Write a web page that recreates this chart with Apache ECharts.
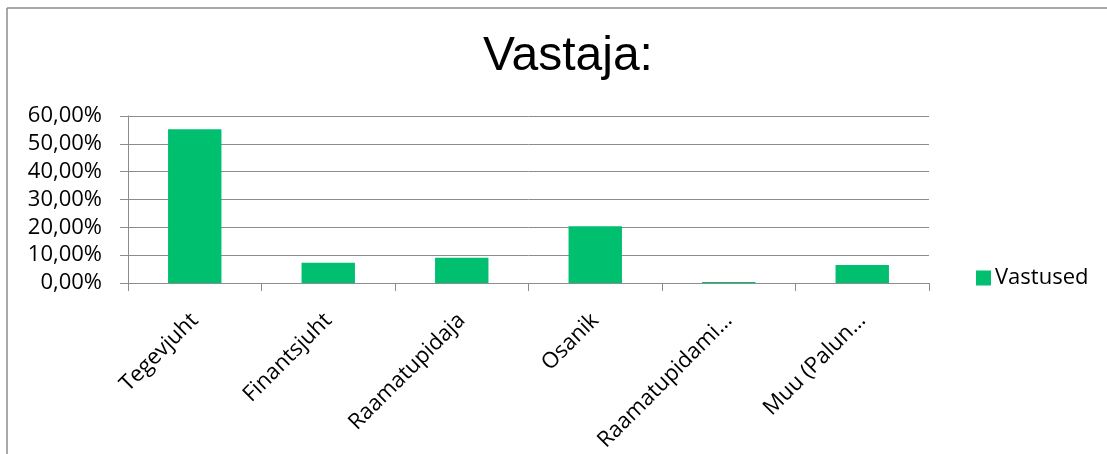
<!DOCTYPE html>
<html>
<head>
<meta charset="utf-8">
<script src="https://cdn.jsdelivr.net/npm/echarts@6/dist/echarts.min.js"></script>
<style>
html,body{margin:0;padding:0;background:#fff;}
#c{width:1107px;height:454px;}
</style>
</head>
<body>
<div id="c"></div>
<script>
var titleText = 'Vastaja:';
var seriesName = 'Vastused';
var categories = ['Tegevjuht', 'Finantsjuht', 'Raamatupidaja', 'Osanik', 'Raamatupidami…', 'Muu (Palun…'];
var values = [55.2, 7.3, 9.1, 20.4, 0.35, 6.45];
var yMin = 0, yMax = 60, yStep = 10;

var chart = echarts.init(document.getElementById('c'), null, {renderer: 'canvas'});
var lblFont = '"Open Sans", sans-serif';
chart.setOption({
  animation: false,
  backgroundColor: '#fff',
  graphic: [
    {type: 'line', shape: {x1: 7, y1: 8, x2: 1107, y2: 8}, style: {stroke: '#8c8c8c', lineWidth: 1.5}},
    {type: 'line', shape: {x1: 7, y1: 8, x2: 7, y2: 454}, style: {stroke: '#8c8c8c', lineWidth: 1.5}}
  ],
  title: {
    text: titleText,
    left: 563, top: 28, textAlign: 'center',
    textStyle: {fontFamily: '"Liberation Sans", Arial, sans-serif', fontSize: 48, fontWeight: 'normal', color: '#000'}
  },
  legend: {
    data: [seriesName],
    left: 971, top: 262,
    itemWidth: 15, itemHeight: 15, itemGap: 10,
    icon: 'rect',
    textStyle: {fontFamily: lblFont, fontSize: 22, color: '#000', padding: [0, 0, 0, -1]}
  },
  grid: {left: 128, right: 178, top: 116, bottom: 170, containLabel: false},
  xAxis: {
    type: 'category',
    data: categories,
    axisLine: {show: true, lineStyle: {color: '#8c8c8c', width: 1}},
    axisTick: {show: true, length: 8, lineStyle: {color: '#8c8c8c'}},
    axisLabel: {rotate: 45, margin: 34, fontFamily: lblFont, fontSize: 22, color: '#000', interval: 0}
  },
  yAxis: {
    type: 'value',
    min: yMin, max: yMax, interval: yStep,
    axisLine: {show: true, lineStyle: {color: '#8c8c8c', width: 1}},
    axisTick: {show: true, length: 8, lineStyle: {color: '#8c8c8c'}},
    splitLine: {show: true, lineStyle: {color: '#8c8c8c', width: 1}},
    axisLabel: {
      margin: 26, fontFamily: lblFont, fontSize: 22, color: '#000',
      formatter: function (v) { return v.toFixed(2).replace('.', ',') + '%'; }
    }
  },
  series: [{
    name: seriesName,
    type: 'bar',
    data: values,
    barWidth: '40%',
    itemStyle: {color: '#00BF6F'}
  }]
});
</script>
</body>
</html>
